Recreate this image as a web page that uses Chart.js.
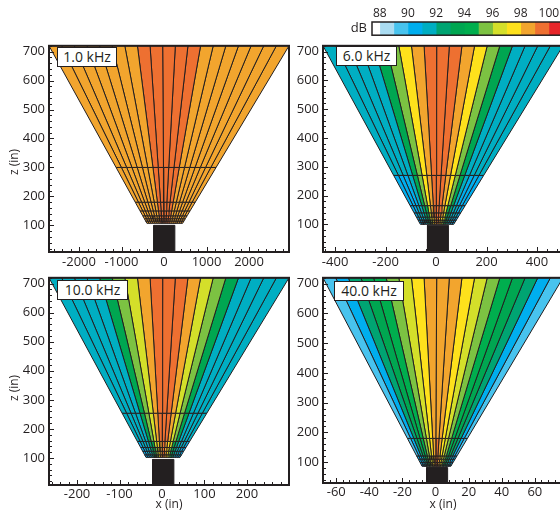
<!DOCTYPE html>
<html>
<head>
<meta charset="utf-8">
<script src="https://cdn.jsdelivr.net/npm/chart.js@4.4.1/dist/chart.umd.min.js"></script>
<style>
  html, body { margin: 0; padding: 0; background: #fff; }
  body { width: 560px; height: 517px; overflow: hidden; position: relative; font-family: 'Open Sans', sans-serif; color: #231f20; }
  canvas { position: absolute; }
  .tag { position: absolute; height: 20px; box-sizing: border-box; background: #fff; border: 1.5px solid #231f20;
         font: 14px 'Open Sans', sans-serif; line-height: 17px; text-align: center; white-space: nowrap; }
  .ztitle { position: absolute; width: 40px; height: 14px; margin-left: -20px; margin-top: -7px; text-align: center;
            font: 12px 'Open Sans', sans-serif; line-height: 14px; transform: rotate(-90deg); white-space: nowrap; }
</style>
</head>
<body>
<canvas id="bar" width="280" height="48" style="left:300px;top:0px"></canvas>
<canvas id="p1" width="300" height="240" style="left:0px;top:34px"></canvas>
<canvas id="p6" width="290" height="240" style="left:290px;top:34px"></canvas>
<canvas id="p10" width="300" height="251" style="left:0px;top:266px"></canvas>
<canvas id="p40" width="290" height="251" style="left:290px;top:266px"></canvas>

<div class="tag" id="t1" style="left:57px;top:47px;width:60px"></div>
<div class="tag" id="t6" style="left:336px;top:46px;width:61px"></div>
<div class="tag" id="t10" style="left:57px;top:280px;width:71px"></div>
<div class="tag" id="t40" style="left:334px;top:281px;width:70px"></div>
<div class="ztitle" style="left:14px;top:162px">z (in)</div>
<div class="ztitle" style="left:14px;top:388px">z (in)</div>

<script>
// ---- data ---------------------------------------------------------------
const freqTags = ['1.0 kHz', '6.0 kHz', '10.0 kHz', '40.0 kHz'];

// horizontal reach (in) of the two outer rays where the beam leaves the top of the plot
const beamEdges1k  = [-2706, 2941];
const beamEdges6k  = [-448, 503];
const beamEdges10k = [-266, 299];
const beamEdges40k = [-68, 77];

// lower end of the depth axis (in)
const zFloors = [8, 4, 7, 30];
const zTop = 720;

// range-bin boundaries in z (in), from the top of the beam downwards
const zBands1k  = [720, 300, 180, 150, 133, 123, 115, 107];
const zBands6k  = [720, 270, 165, 140, 125, 115, 107, 100];
const zBands10k = [720, 254, 157, 136, 123, 111, 102, 96];
const zBands40k = [720, 180, 121, 110, 99, 91, 86];

// received level (dB) per range bin (rows) and beam (columns, left to right)
const level1k = [
  [98,98,98,98,98,98,98,99,99,99,99,99,98,98,98,98,98,98,98],
  [98,98,98,98,98,98,98,99,99,99,99,99,98,98,98,98,98,98,98],
  [98,98,98,98,98,98,98,99,99,99,99,99,98,98,98,98,98,98,98],
  [98,98,98,98,98,98,98,99,99,99,99,99,98,98,98,98,98,98,98],
  [98,98,98,98,98,98,98,99,99,99,99,99,98,98,98,98,98,98,98],
  [98,98,98,98,98,98,98,99,99,99,99,99,98,98,98,98,98,98,98],
  [98,98,98,98,98,98,98,99,99,99,99,99,98,98,98,98,98,98,98]
];
const level6k = [
  [91,91,91,91,93,95,97,98,99,99,99,98,97,95,93,91,91,91,91],
  [90,90,90,91,93,95,97,98,99,99,99,98,97,95,93,91,90,90,90],
  [90,90,91,91,92,94,96,98,99,99,99,98,96,94,92,91,91,90,90],
  [90,91,91,91,92,94,96,98,99,99,99,98,96,94,92,91,91,91,90],
  [90,90,91,91,92,93,96,97,98,99,98,97,96,93,92,91,91,90,90],
  [90,90,91,91,92,93,95,97,98,99,98,97,95,93,92,91,91,90,90],
  [90,90,90,91,92,93,95,97,98,99,98,97,95,93,92,91,90,90,90]
];
const level10k = [
  [91,91,91,91,93,95,96,98,99,99,99,98,96,95,93,91,91,91,91],
  [91,91,91,91,93,95,96,98,99,99,99,98,96,95,93,91,91,91,91],
  [90,91,91,91,92,94,96,97,98,99,98,97,96,94,92,91,91,91,90],
  [90,90,91,91,92,93,95,97,98,99,98,97,95,93,92,91,91,90,90],
  [90,90,91,91,92,93,95,97,98,99,98,97,95,93,92,91,91,90,90],
  [90,90,90,91,92,93,95,97,98,99,98,97,95,93,92,91,90,90,90]
];
const level40k = [
  [89,90,92,93,94,95,96,97,98,98,98,97,96,95,94,93,92,90,89],
  [89,90,92,93,94,95,96,97,98,99,98,97,96,95,94,93,92,90,89],
  [90,90,91,92,93,95,96,97,98,99,98,97,96,95,93,92,91,90,90],
  [90,90,91,92,93,95,96,97,98,99,98,97,96,95,93,92,91,90,90],
  [90,90,91,92,93,94,96,97,98,99,98,97,96,94,93,92,91,90,90],
  [90,90,91,92,93,94,96,97,98,99,98,97,96,94,93,92,91,90,90]
];

// support column below the transducer: [x left, x right, z top] (in)
const pier1k  = [-240, 255, 100];
const pier6k  = [-34, 49, 97];
const pier10k = [-22, 28, 95];
const pier40k = [-5.4, 7.3, 82];

// axis tick labels
const zTicks      = [100, 200, 300, 400, 500, 600, 700];
const xTicks1k    = [-2000, -1000, 0, 1000, 2000];
const xTicks6k    = [-400, -200, 0, 200, 400];
const xTicks10k   = [-200, -100, 0, 100, 200];
const xTicks40k   = [-60, -40, -20, 0, 20, 40, 60];

// colour bar
const dbBins  = [87, 88, 89, 90, 91, 92, 93, 94, 95, 96, 97, 98, 99, 100];
const dbTicks = [88, 90, 92, 94, 96, 98, 100];
const dbRange = [87.45, 101];

// ---- styling ------------------------------------------------------------
const INK = '#231f20';
const palette = {
  87: '#ffffff', 88: '#aadcf2', 89: '#48c3ee', 90: '#00aeee', 91: '#00aec2',
  92: '#00a472', 93: '#00a651', 94: '#00ae4e', 95: '#7cc242', 96: '#d4df2a',
  97: '#fee11c', 98: '#f2a52e', 99: '#ee7031', 100: '#e7262a'
};
const levelColor = v => palette[Math.max(87, Math.min(100, Math.floor(v)))];
const tickFont = { family: "'Open Sans', sans-serif", size: 13 };
const plainNumber = v => String(v);

// inward tick marks and the heavy frame round each panel
const axisDecor = {
  id: 'axisDecor',
  afterDatasetsDraw(chart, args, o) {
    const { ctx, chartArea: a } = chart;
    const xs = chart.scales.x, ys = chart.scales.y;
    const isMajor = (v, m) => Math.abs(Math.round(v / m) * m - v) < 1e-6;
    ctx.save();
    ctx.strokeStyle = INK;
    ctx.lineWidth = 1;
    ctx.beginPath();
    for (let k = Math.ceil(xs.min / o.xMinor); k * o.xMinor <= xs.max; k++) {
      const v = k * o.xMinor;
      const px = Math.round(xs.getPixelForValue(v)) + 0.5;
      const len = isMajor(v, o.xMajor) ? 5 : 3;
      ctx.moveTo(px, a.bottom);
      ctx.lineTo(px, a.bottom - len);
    }
    for (let k = Math.ceil(ys.min / o.yMinor); k * o.yMinor <= ys.max; k++) {
      const v = k * o.yMinor;
      const py = Math.round(ys.getPixelForValue(v)) + 0.5;
      const len = isMajor(v, o.yMajor) ? 5 : 3;
      ctx.moveTo(a.left, py);
      ctx.lineTo(a.left + len, py);
    }
    ctx.stroke();
    ctx.lineWidth = 2;
    ctx.strokeRect(a.left, a.top, a.width, a.height);
    ctx.restore();
  }
};

function beamCells(edges, bands, levels) {
  const sets = [];
  const n = levels[0].length;
  const rayTop = k => edges[0] + (edges[1] - edges[0]) * k / n;
  levels.forEach((row, b) => {
    const zHi = bands[b], zLo = bands[b + 1];
    row.forEach((lvl, w) => {
      const a = rayTop(w), c = rayTop(w + 1);
      sets.push({
        data: [
          { x: a * zLo / zTop, y: zLo }, { x: c * zLo / zTop, y: zLo },
          { x: c * zHi / zTop, y: zHi }, { x: a * zHi / zTop, y: zHi },
          { x: a * zLo / zTop, y: zLo }
        ],
        showLine: true, fill: 'shape', tension: 0, pointRadius: 0,
        backgroundColor: levelColor(lvl), borderColor: INK, borderWidth: 1
      });
    });
  });
  return sets;
}

function pierSet(p) {
  return {
    data: [{ x: p[0], y: 0 }, { x: p[1], y: 0 }, { x: p[1], y: p[2] }, { x: p[0], y: p[2] }, { x: p[0], y: 0 }],
    showLine: true, fill: 'shape', pointRadius: 0, tension: 0,
    backgroundColor: INK, borderColor: INK, borderWidth: 1
  };
}

function beamPanel(id, cfg) {
  new Chart(document.getElementById(id), {
    type: 'scatter',
    data: { datasets: beamCells(cfg.edges, cfg.bands, cfg.levels).concat([pierSet(cfg.pier)]) },
    plugins: [axisDecor],
    options: {
      responsive: false, animation: false, events: [],
      layout: { padding: { left: 0, top: cfg.padTop, right: cfg.padRight, bottom: 0 } },
      plugins: {
        legend: { display: false }, tooltip: { enabled: false },
        axisDecor: { xMinor: cfg.xMinor, xMajor: cfg.xMajor, yMinor: 20, yMajor: 100 }
      },
      scales: {
        x: {
          type: 'linear', min: cfg.edges[0], max: cfg.edges[1],
          grid: { display: false, drawTicks: false }, border: { display: false },
          afterBuildTicks: s => { s.ticks = cfg.xTicks.map(v => ({ value: v })); },
          afterFit: s => { s.height = cfg.axisH; },
          ticks: { font: tickFont, color: INK, padding: cfg.xPad, maxRotation: 0, autoSkip: false, callback: plainNumber },
          title: cfg.xTitle
            ? { display: true, text: 'x (in)', color: INK, font: { family: "'Open Sans', sans-serif", size: 12 }, padding: { top: 0, bottom: 5 } }
            : { display: false }
        },
        y: {
          type: 'linear', min: cfg.zFloor, max: zTop,
          grid: { display: false, drawTicks: false }, border: { display: false },
          afterBuildTicks: s => { s.ticks = zTicks.map(v => ({ value: v })); },
          afterFit: s => { s.width = cfg.axisW; },
          ticks: { font: tickFont, color: INK, padding: 4, autoSkip: false, callback: plainNumber }
        }
      }
    }
  });
}

beamPanel('p1',  { edges: beamEdges1k,  bands: zBands1k,  levels: level1k,  pier: pier1k,  zFloor: zFloors[0],
  xTicks: xTicks1k,  xMinor: 200, xMajor: 1000, padTop: 10, padRight: 11, axisW: 49, axisH: 22, xPad: 2, xTitle: false });
beamPanel('p6',  { edges: beamEdges6k,  bands: zBands6k,  levels: level6k,  pier: pier6k,  zFloor: zFloors[1],
  xTicks: xTicks6k,  xMinor: 40,  xMajor: 200,  padTop: 10, padRight: 17, axisW: 33, axisH: 22, xPad: 2, xTitle: false });
beamPanel('p10', { edges: beamEdges10k, bands: zBands10k, levels: level10k, pier: pier10k, zFloor: zFloors[2],
  xTicks: xTicks10k, xMinor: 20,  xMajor: 100,  padTop: 11, padRight: 11, axisW: 49, axisH: 32, xPad: 1, xTitle: true });
beamPanel('p40', { edges: beamEdges40k, bands: zBands40k, levels: level40k, pier: pier40k, zFloor: zFloors[3],
  xTicks: xTicks40k, xMinor: 4,   xMajor: 20,   padTop: 10, padRight: 17, axisW: 33, axisH: 34, xPad: 1, xTitle: true });

['t1', 't6', 't10', 't40'].forEach((id, i) => { document.getElementById(id).textContent = freqTags[i]; });

// colour bar: one floating bar per 1 dB bin
const frameOnly = {
  id: 'frameOnly',
  afterDraw(chart) {
    const { ctx, chartArea: a } = chart;
    ctx.save();
    ctx.strokeStyle = INK;
    ctx.lineWidth = 1.5;
    ctx.strokeRect(a.left, a.top, a.width, a.height);
    ctx.restore();
  }
};
new Chart(document.getElementById('bar'), {
  type: 'bar',
  data: {
    labels: ['dB'],
    datasets: dbBins.map(b => ({
      data: [[Math.max(b, dbRange[0]), Math.min(b + 1, dbRange[1])]],
      backgroundColor: palette[b], borderWidth: 0,
      grouped: false, categoryPercentage: 1, barPercentage: 1
    }))
  },
  plugins: [frameOnly],
  options: {
    indexAxis: 'y', responsive: false, animation: false, events: [],
    layout: { padding: { left: 0, top: 0, right: 17, bottom: 9 } },
    plugins: { legend: { display: false }, tooltip: { enabled: false } },
    scales: {
      x: {
        type: 'linear', position: 'top', min: dbRange[0], max: dbRange[1], z: 1,
        grid: { color: INK, lineWidth: 1, drawTicks: false }, border: { display: false },
        afterBuildTicks: s => { s.ticks = dbTicks.map(v => ({ value: v })); },
        afterFit: s => { s.height = 22; },
        ticks: { font: { family: "'Open Sans', sans-serif", size: 12 }, color: INK, padding: 1, maxRotation: 0, autoSkip: false }
      },
      y: {
        grid: { display: false, drawTicks: false }, border: { display: false },
        afterFit: s => { s.width = 72; },
        ticks: { font: { family: "'Open Sans', sans-serif", size: 13 }, color: INK, padding: 5 }
      }
    }
  }
});
</script>
</body>
</html>
